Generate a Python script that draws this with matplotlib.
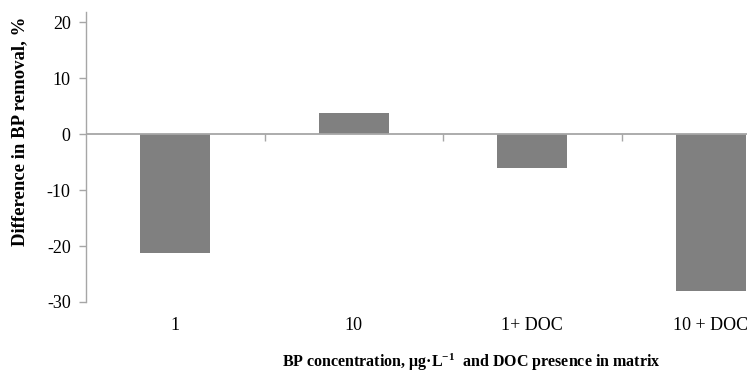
import numpy as np
import matplotlib
matplotlib.use('Agg')
import matplotlib.pyplot as plt

categories = ['1', '10', '1+ DOC', '10 + DOC']
values = [-21.2, 3.8, -6.1, -28.0]
yticks = [20, 10, 0, -10, -20, -30]

plt.rcParams['font.family'] = 'Liberation Serif'
plt.rcParams['mathtext.fontset'] = 'custom'
plt.rcParams['mathtext.rm'] = 'Liberation Serif:bold'
plt.rcParams['mathtext.default'] = 'rm'
plt.rcParams['axes.unicode_minus'] = False

axcol = '#a6a6a6'
W, H = 747, 373
fig = plt.figure(figsize=(W/100, H/100), dpi=100)
ax = fig.add_axes([86/W, (H-302)/H, 1-86/W, (302-12)/H])

x = np.arange(len(categories))
ax.bar(x, values, width=0.39, color='#808080', zorder=2)
ax.axhline(0, color=axcol, lw=1.3, zorder=3)

ax.set_xlim(-0.5, -0.5 + (W-86)/178.5)
ax.set_ylim(-30, 21.8)
ax.set_yticks(yticks)
ax.set_yticklabels([str(v) for v in yticks], fontsize=13)
ax.set_xticks(x)
ax.set_xticklabels(categories, fontsize=13)
ax.tick_params(axis='x', length=0, pad=11)
ax.tick_params(axis='y', length=5, color=axcol, width=1, pad=6)
for s in ['top', 'right', 'bottom']:
    ax.spines[s].set_visible(False)
ax.spines['left'].set_color(axcol)
ax.spines['left'].set_linewidth(1)

# category boundary ticks on the zero line
ax2 = ax.twiny()
ax2.set_xlim(ax.get_xlim())
for s in ['bottom', 'left', 'right']:
    ax2.spines[s].set_visible(False)
ax2.spines['top'].set_position(('data', 0))
ax2.spines['top'].set_visible(False)
ax2.set_xticks(x[:-1] + 0.5)
ax2.tick_params(axis='x', direction='in', length=5, color=axcol, width=1, labeltop=False)

fig.text(471/W, 1-362/H, r'BP concentration, μg·L$^{-1}$  and DOC presence in matrix',
         ha='center', va='center', fontsize=11.5, fontweight='bold')
fig.text(20/W, 1-131/H, 'Difference in BP removal, %', rotation=90,
         ha='center', va='center', fontsize=13.5, fontweight='bold')

plt.savefig('out.png', dpi=100)
